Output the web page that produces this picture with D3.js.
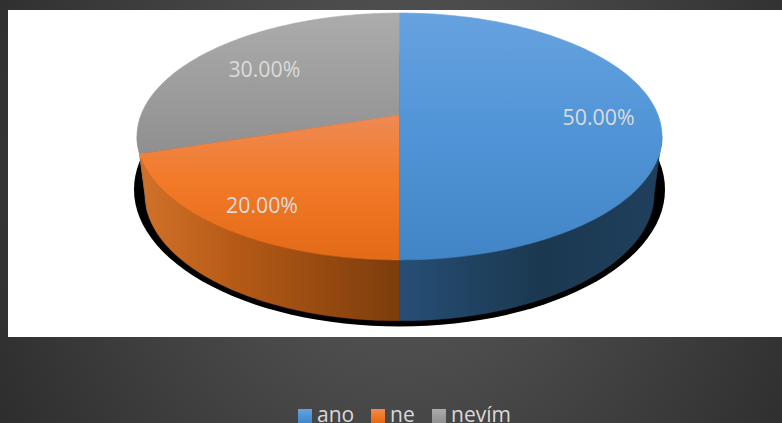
<!DOCTYPE html>
<html><head><meta charset="utf-8">
<script src="https://cdn.jsdelivr.net/npm/d3@7"></script>
<style>html,body{margin:0;padding:0;background:#3a3a3a;overflow:hidden}svg{display:block}text{font-family:"Open Sans",sans-serif}</style>
</head><body><svg id="c" width="782" height="423"></svg>
<script>
const categories = ["ano","ne","nevím"];
const shares = [50,20,30];

const W=782,H=423,cx=399.5;
const svg=d3.select("#c");
const defs=svg.append("defs");
const fmt=d3.format(".2f");

// perspective mapping of the pie plane
const persp=-0.174, kx=258.5, ya=99.7, yb=115;
const top2=(u,v)=>{const d=1+persp*v;return [cx+kx*u/d,(yb+ya*v)/d];};
const low2=(u,v)=>{const p=top2(u,v);return [cx+(p[0]-cx)*0.97,p[1]*1.024+54.7];};
const pt=(f,a,r=1)=>f(r*Math.sin(a),-r*Math.cos(a));

function grad(id,x1,y1,x2,y2,stops){
  const g=defs.append("linearGradient").attr("id",id).attr("gradientUnits","userSpaceOnUse")
    .attr("x1",x1).attr("y1",y1).attr("x2",x2).attr("y2",y2);
  stops.forEach(s=>g.append("stop").attr("offset",s[0]).attr("stop-color",s[1]));
}
const topStops=[
  [[0,"#67a2df"],[0.5,"#4f94d6"],[1,"#4285c6"]],
  [[0,"#ee8a54"],[0.45,"#f27a28"],[1,"#e36a17"]],
  [[0,"#acacac"],[1,"#8f8f8f"]]
];
const topRanges=[[13,260],[115,260],[13,155]];
const wallGrads=[
  [655,400,[[0,"#1f3f5c"],[0.45,"#1b3850"],[1,"#264e75"]]],
  [147,400,[[0,"#cf7028"],[0.35,"#b55a16"],[1,"#7c3c0c"]]],
  [137,150,[[0,"#8d9196"],[1,"#7c8086"]]]
];
categories.forEach((c,i)=>{
  grad("top"+i,0,topRanges[i][0],0,topRanges[i][1],topStops[i]);
  grad("wall"+i,wallGrads[i][0],0,wallGrads[i][1],0,wallGrads[i][2]);
  grad("key"+i,0,409,0,423,topStops[i]);
});
const bg=defs.append("radialGradient").attr("id","bg").attr("gradientUnits","userSpaceOnUse")
  .attr("cx",0).attr("cy",0).attr("r",1)
  .attr("gradientTransform","translate(400,180) scale(450,500)");
bg.append("stop").attr("offset",0).attr("stop-color","#545454");
bg.append("stop").attr("offset",0.35).attr("stop-color","#4d4d4d");
bg.append("stop").attr("offset",1).attr("stop-color","#2e2e2e");

svg.append("rect").attr("width",W).attr("height",H).attr("fill","url(#bg)");
svg.append("rect").attr("x",8).attr("y",10).attr("width",W-8).attr("height",327).attr("fill","#fff");

const pie=d3.pie().sort(null).value(d=>d)(shares);
const line=d3.line();
const sample=(a0,a1)=>d3.range(0,121).map(k=>a0+(a1-a0)*k/120);

// shadow
svg.append("path").attr("fill","#000").attr("d",
  line(sample(0,2*Math.PI).map(a=>[cx+265.5*Math.sin(a),189.5-137*Math.cos(a)]))+"Z");

// walls: only the front-facing arc, between the two silhouette angles of the rim
const rad=d3.scaleLinear().domain([0,360]).range([0,2*Math.PI]);
const visFrom=rad(100), visTo=rad(260);
[2,0,1].forEach(i=>{
  const s=pie[i],a0=Math.max(s.startAngle,visFrom),a1=Math.min(s.endAngle,visTo);
  if(a1<=a0) return;
  const as=sample(a0,a1);
  svg.append("path").attr("fill",`url(#wall${i})`).attr("stroke",`url(#wall${i})`).attr("stroke-width",0.4).attr("d",
    line(as.map(a=>pt(top2,a)).concat(as.slice().reverse().map(a=>pt(low2,a))))+"Z");
});
// top faces
[2,1,0].forEach(i=>{
  const s=pie[i],as=sample(s.startAngle,s.endAngle);
  svg.append("path").attr("fill",`url(#top${i})`).attr("stroke",`url(#top${i})`).attr("stroke-width",0.6).attr("d",
    line([top2(0,0)].concat(as.map(a=>pt(top2,a))))+"Z");
});
// data labels
const labelRadius=[0.77,0.8,0.7], labelDx=[0,-0.5,1.5], labelDy=[2,3,0.5];
pie.forEach((s,i)=>{
  const p=pt(top2,(s.startAngle+s.endAngle)/2,labelRadius[i]);
  svg.append("text").attr("x",p[0]+labelDx[i]).attr("y",p[1]+0.5+labelDy[i]).attr("dy","0.35em")
    .attr("text-anchor","middle").attr("font-size",21.3).attr("fill","#dcdcdc")
    .text(fmt(s.value)+"%");
});
// legend
const keyX=d3.scaleOrdinal().domain(categories).range([298,371,432]);
const lg=svg.selectAll("g.k").data(categories).join("g").attr("class","k")
  .attr("transform",d=>`translate(${keyX(d)},0)`);
lg.append("rect").attr("y",409).attr("width",14).attr("height",14)
  .attr("fill",(d,i)=>`url(#key${i})`);
lg.append("text").attr("x",19).attr("y",422).attr("font-size",21).attr("fill","#d9d9d9").text(d=>d);
</script></body></html>
